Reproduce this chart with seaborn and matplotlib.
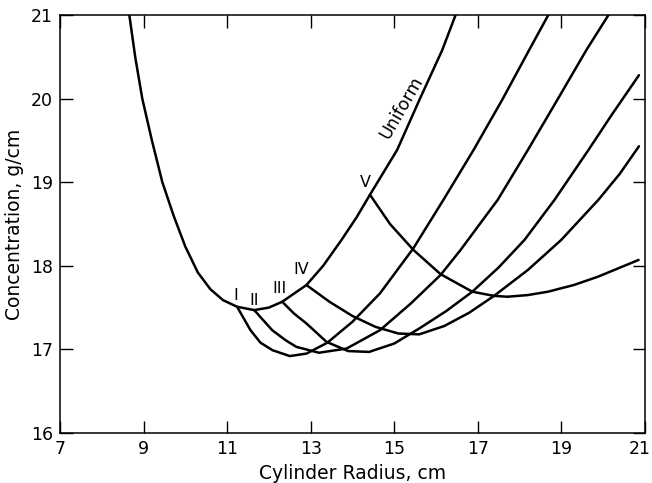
import matplotlib
matplotlib.use("Agg")
import matplotlib.pyplot as plt
import matplotlib.transforms as mtransforms
import seaborn as sns
import pandas as pd

# ---- data ----
uniform_x = [8.66, 8.8, 8.97, 9.2, 9.45, 9.72, 10.0, 10.3, 10.6, 10.9, 11.24, 11.65, 12.0, 12.32,
             12.9, 13.3, 13.74, 14.1, 14.42, 15.07, 15.6, 16.15, 16.47]
uniform_y = [21.0, 20.5, 20.0, 19.5, 19.0, 18.6, 18.23, 17.92, 17.72, 17.59, 17.51, 17.47, 17.5, 17.57,
             17.77, 18.0, 18.31, 18.58, 18.85, 19.385, 19.98, 20.58, 21.0]

b1_x = [11.24, 11.56, 11.8, 12.09, 12.5, 12.9, 13.4, 14.0, 14.66, 15.46, 16.18, 16.9, 17.58, 18.23, 18.69]
b1_y = [17.51, 17.23, 17.08, 16.99, 16.92, 16.95, 17.08, 17.33, 17.67, 18.21, 18.79, 19.385, 19.98, 20.58, 21.0]

b2_x = [11.65, 11.9, 12.08, 12.4, 12.66, 13.2, 13.86, 14.66, 15.4, 16.11, 16.59, 17.48, 18.2, 18.9, 19.6, 20.13]
b2_y = [17.47, 17.33, 17.23, 17.11, 17.03, 16.96, 17.01, 17.23, 17.55, 17.89, 18.19, 18.79, 19.385, 19.98, 20.58, 21.0]

b3_x = [12.32, 12.6, 12.9, 13.38, 13.9, 14.4, 15.0, 15.6, 16.25, 16.87, 17.5, 18.12, 18.84, 19.65, 20.2, 20.86]
b3_y = [17.57, 17.43, 17.31, 17.09, 16.98, 16.97, 17.07, 17.25, 17.46, 17.69, 17.98, 18.31, 18.79, 19.385, 19.8, 20.28]

b4_x = [12.9, 13.45, 14.0, 14.55, 15.1, 15.6, 16.2, 16.8, 17.39, 18.2, 19.0, 19.89, 20.4, 20.86]
b4_y = [17.77, 17.57, 17.4, 17.27, 17.19, 17.18, 17.28, 17.44, 17.64, 17.95, 18.31, 18.79, 19.1, 19.43]

b5_x = [14.42, 14.9, 15.46, 16.11, 16.87, 17.39, 17.71, 18.2, 18.68, 19.3, 19.88, 20.85]
b5_y = [18.85, 18.5, 18.19, 17.9, 17.69, 17.64, 17.63, 17.65, 17.69, 17.77, 17.87, 18.07]

curve_names = ["Uniform", "I", "II", "III", "IV", "V"]
label_x = [15.17, 11.21, 11.65, 12.25, 12.78, 14.3]
label_y = [19.89, 17.65, 17.59, 17.73, 17.95, 19.0]

x_ticks = [7, 9, 11, 13, 15, 17, 19, 21]
y_ticks = [16, 17, 18, 19, 20, 21]

# ---- build long table ----
series = [(uniform_x, uniform_y), (b1_x, b1_y), (b2_x, b2_y), (b3_x, b3_y), (b4_x, b4_y), (b5_x, b5_y)]
rows = []
for name, (xs, ys) in zip(curve_names, series):
    for i, (xv, yv) in enumerate(zip(xs, ys)):
        rows.append({"curve": name, "order": i, "radius": xv, "conc": yv})
df = pd.DataFrame(rows)

sns.set_theme(style="ticks")
plt.rcParams["font.family"] = ["DejaVu Sans"]
plt.rcParams["text.color"] = "black"
plt.rcParams["axes.labelcolor"] = "black"

fig = plt.figure(figsize=(6.52, 4.83), dpi=100)
ax = fig.add_axes([0.092, 0.1035, 0.897, 0.8655])

sns.lineplot(data=df, x="radius", y="conc", units="curve", estimator=None, sort=False,
             color="black", linewidth=1.8, ax=ax)

ax.set_xlim(7, 21)
ax.set_ylim(16, 21)
ax.set_xticks(x_ticks)
ax.set_yticks(y_ticks)
ax.set_xticklabels([str(t) for t in x_ticks])
ax.set_yticklabels([str(t) for t in y_ticks])
ax.tick_params(direction="in", length=9, width=1.0, top=True, right=True,
               labelsize=12.5, colors="black", pad=5)
for s in ax.spines.values():
    s.set_visible(True)
    s.set_linewidth(1.1)
    s.set_color("black")

# keep the last x tick label inside the figure
last = ax.get_xticklabels()[-1]
last.set_transform(last.get_transform() + mtransforms.ScaledTranslation(-5 / 100, 0, fig.dpi_scale_trans))

ax.set_xlabel("Cylinder Radius, cm", fontsize=13.5, labelpad=4, color="black")
ax.set_ylabel("Concentration, g/cm", fontsize=13.5, labelpad=5, color="black")

ax.text(label_x[0], label_y[0], curve_names[0], rotation=60, fontsize=12.5,
        ha="center", va="center", color="black")
for name, lx, ly in zip(curve_names[1:], label_x[1:], label_y[1:]):
    ax.text(lx, ly, name, fontsize=11.5, ha="center", va="center", color="black")

fig.savefig("out.png", dpi=100)
